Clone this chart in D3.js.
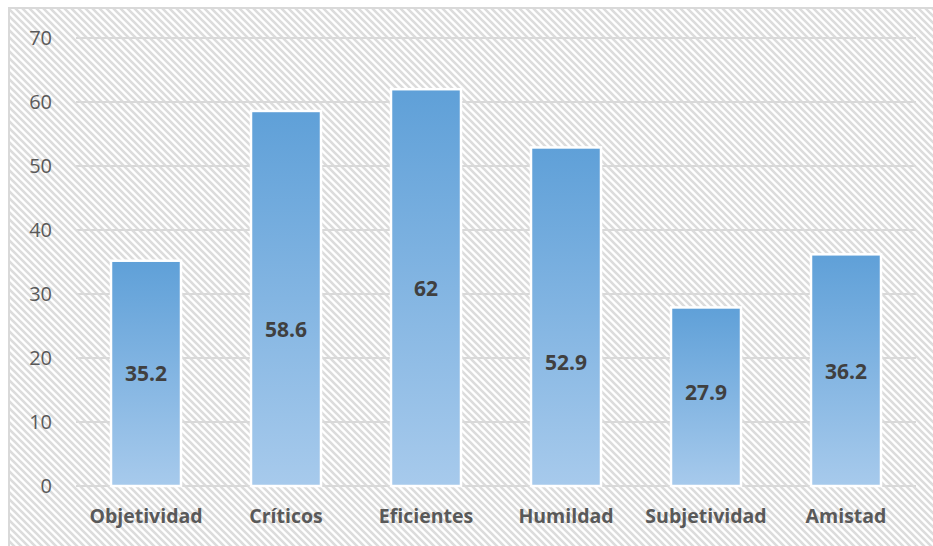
<!DOCTYPE html>
<html>
<head>
<meta charset="utf-8">
<script src="https://cdn.jsdelivr.net/npm/d3@7"></script>
<style>
  html, body { margin: 0; padding: 0; background: #fff; }
  svg { display: block; }
</style>
</head>
<body>
<div id="chart"></div>
<script>
  // datos del gráfico
  const categorias = ["Objetividad", "Críticos", "Eficientes", "Humildad", "Subjetividad", "Amistad"];
  const valores = [35.2, 58.6, 62, 52.9, 27.9, 36.2];
  const ticksY = [0, 10, 20, 30, 40, 50, 60, 70];

  const width = 933, height = 546;
  const margin = { top: 38, right: 17, bottom: 60, left: 76 };

  const svg = d3.select("#chart").append("svg")
    .attr("width", width).attr("height", height);

  const defs = svg.append("defs");

  // fondo rayado (diagonal hacia abajo)
  const pat = defs.append("pattern")
    .attr("id", "rayas")
    .attr("patternUnits", "userSpaceOnUse")
    .attr("width", 7).attr("height", 7);
  pat.append("rect").attr("width", 7).attr("height", 7).attr("fill", "#ffffff");
  pat.append("path")
    .attr("d", "M-2,5 l4,4 M0,0 l7,7 M5,-2 l4,4")
    .attr("stroke", "#dcdcdc")
    .attr("stroke-width", 2.6);

  const grad = defs.append("linearGradient")
    .attr("id", "barra")
    .attr("gradientUnits", "objectBoundingBox")
    .attr("x1", 0).attr("y1", 0).attr("x2", 0).attr("y2", 1);
  grad.append("stop").attr("offset", "0%").attr("stop-color", "#5fa0d8");
  grad.append("stop").attr("offset", "100%").attr("stop-color", "#a7caec");

  svg.append("rect")
    .attr("x", 9).attr("y", 8)
    .attr("width", width).attr("height", height)
    .attr("fill", "url(#rayas)")
    .attr("stroke", "#d9d9d9")
    .attr("stroke-width", 2);

  const x = d3.scaleBand()
    .domain(categorias)
    .range([margin.left, width - margin.right])
    .paddingInner(0.5)
    .paddingOuter(0.25);

  const y = d3.scaleLinear()
    .domain([0, 70])
    .range([height - margin.bottom, margin.top]);

  // Grid
  svg.append("g")
    .selectAll("line")
    .data(ticksY)
    .join("line")
    .attr("x1", margin.left).attr("x2", width - margin.right)
    .attr("y1", d => y(d)).attr("y2", d => y(d))
    .attr("stroke", "#d9d9d9")
    .attr("stroke-width", 2);

  // Eje Y
  const ejeY = svg.append("g")
    .attr("transform", `translate(${margin.left},0)`)
    .call(d3.axisLeft(y).tickValues(ticksY).tickSize(0).tickPadding(24));
  ejeY.select(".domain").remove();
  ejeY.selectAll("text")
    .attr("font-family", "'Open Sans', sans-serif")
    .attr("font-size", "20px")
    .attr("fill", "#595959");

  // Eje X
  const ejeX = svg.append("g")
    .attr("transform", `translate(0,${height - margin.bottom})`)
    .call(d3.axisBottom(x).tickSize(0).tickPadding(23));
  ejeX.select(".domain").remove();
  ejeX.selectAll("text")
    .attr("font-family", "'Open Sans', sans-serif")
    .attr("font-size", "19.5px")
    .attr("font-weight", "bold")
    .attr("fill", "#595959");

  // Barras
  svg.append("g")
    .selectAll("rect")
    .data(valores)
    .join("rect")
    .attr("x", (d, i) => x(categorias[i]))
    .attr("y", d => y(d))
    .attr("width", x.bandwidth())
    .attr("height", d => y(0) - y(d))
    .attr("fill", "url(#barra)")
    .attr("stroke", "#ffffff")
    .attr("stroke-width", 2.5);

  // posición vertical de cada etiqueta (en unidades del eje), como en el original
  const etiquetaEn = [17.6, 24.4, 30.8, 19.2, 14.6, 17.8];

  svg.append("g")
    .selectAll("text")
    .data(valores)
    .join("text")
    .attr("x", (d, i) => x(categorias[i]) + x.bandwidth() / 2)
    .attr("y", (d, i) => y(etiquetaEn[i]))
    .attr("dy", "0.35em")
    .attr("text-anchor", "middle")
    .attr("font-family", "'Open Sans', sans-serif")
    .attr("font-size", "21px")
    .attr("font-weight", "bold")
    .attr("fill", "#404040")
    .text(d => d);
</script>
</body>
</html>
